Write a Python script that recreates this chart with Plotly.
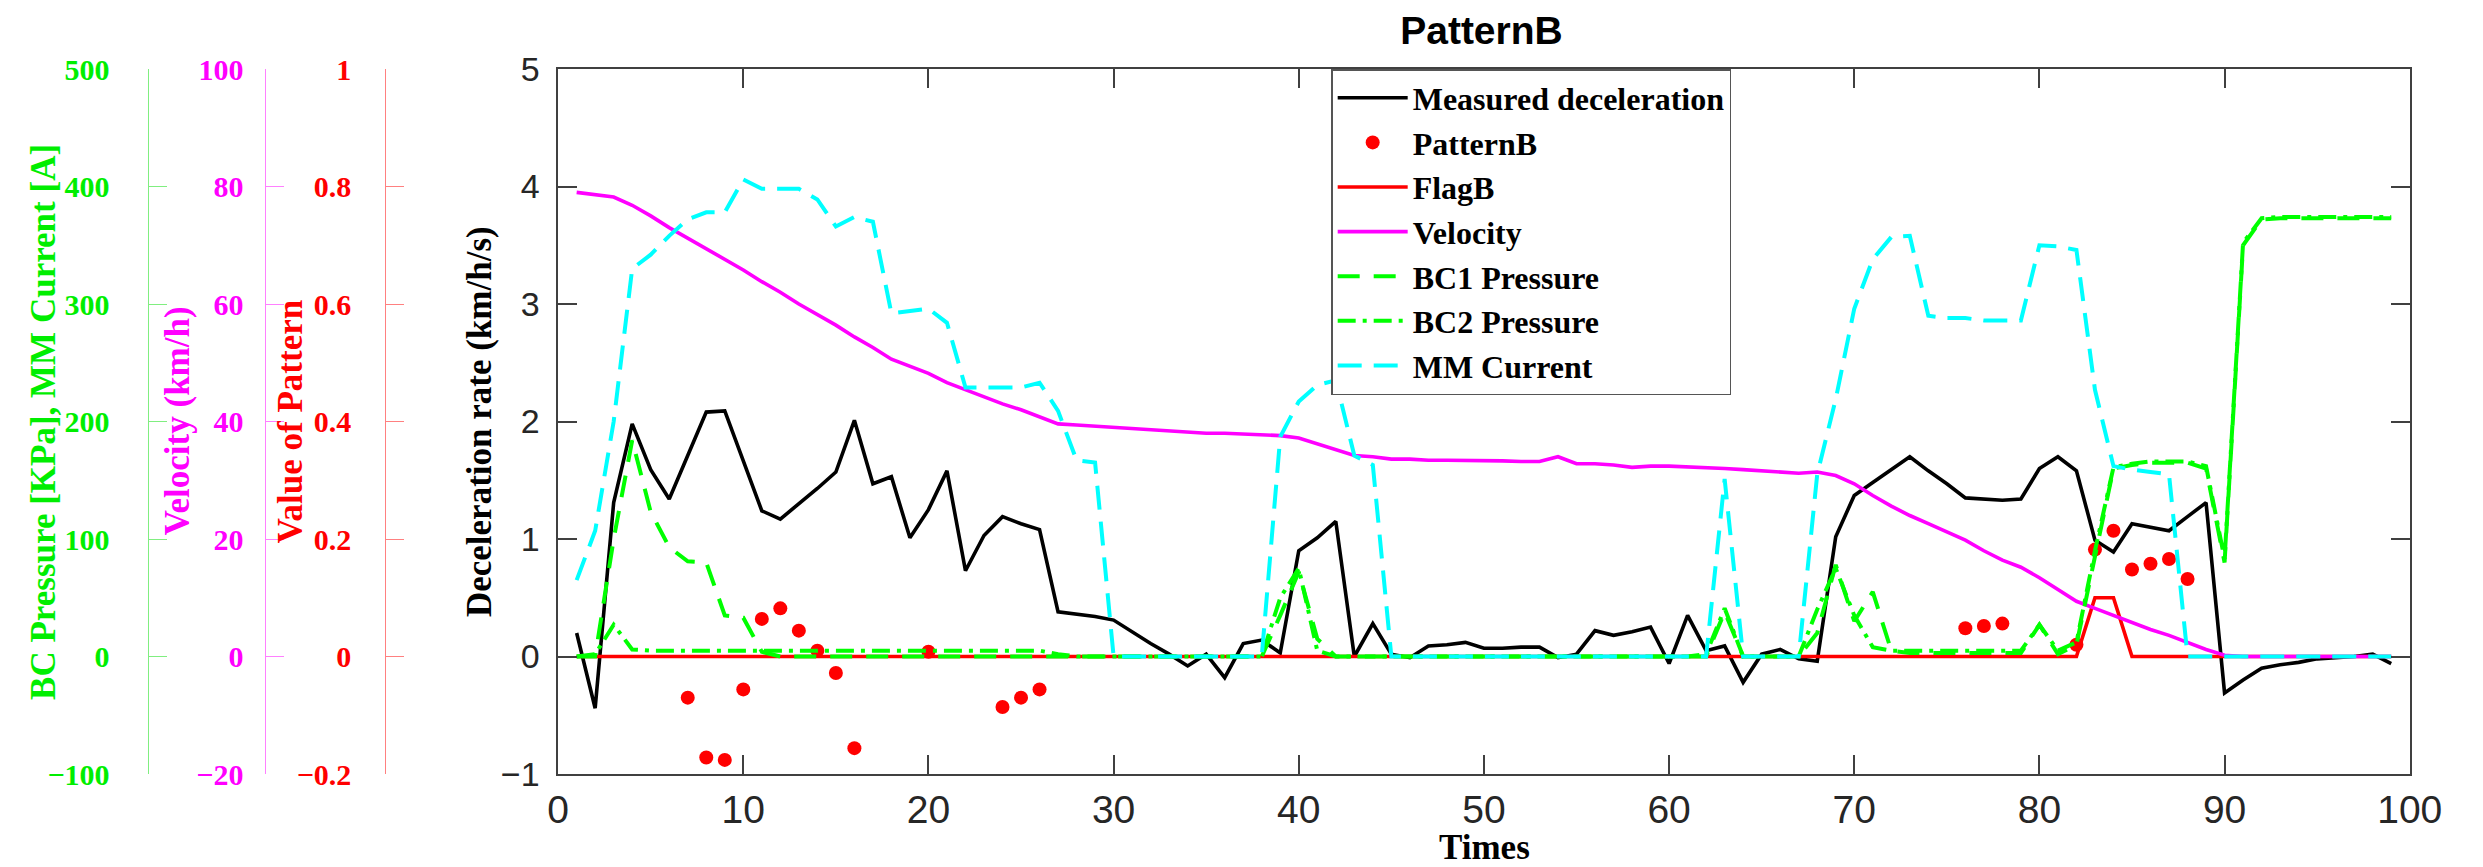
import plotly.graph_objects as go

# ---------------- data ----------------
times = list(range(1, 100))

decel = [0.20, -0.44, 1.31, 1.98, 1.59, 1.34, 1.71, 2.08, 2.09, 1.67,
         1.24, 1.17, 1.30, 1.43, 1.57, 2.01, 1.47, 1.53, 1.01, 1.25,
         1.58, 0.73, 1.03, 1.19, 1.13, 1.08, 0.38, 0.36, 0.34, 0.31,
         0.21, 0.11, 0.02, -0.08, 0.02, -0.18, 0.11, 0.14, 0.03, 0.90,
         1.01, 1.15, 0.00, 0.28, 0.02, -0.01, 0.09, 0.10, 0.12, 0.07,
         0.07, 0.08, 0.08, -0.01, 0.02, 0.22, 0.18, 0.21, 0.25, -0.06,
         0.35, 0.05, 0.09, -0.22, 0.02, 0.06, -0.02, -0.04, 1.02, 1.37,
         1.48, 1.59, 1.70, 1.58, 1.47, 1.35, 1.34, 1.33, 1.34, 1.60,
         1.70, 1.58, 0.99, 0.89, 1.13, 1.10, 1.07, 1.19, 1.31, -0.31,
         -0.20, -0.10, -0.07, -0.05, -0.02, -0.01, 0.00, 0.02, -0.06]

velocity = [79.0, 78.6, 78.2, 76.8, 75.0, 73.0, 71.2, 69.4, 67.6, 65.8,
            63.8, 62.0, 60.0, 58.2, 56.4, 54.4, 52.6, 50.6, 49.4, 48.2,
            46.6, 45.4, 44.2, 43.0, 42.0, 40.8, 39.6, 39.4, 39.2, 39.0,
            38.8, 38.6, 38.4, 38.2, 38.0, 38.0, 37.9, 37.8, 37.6, 37.2,
            36.2, 35.2, 34.2, 34.0, 33.6, 33.6, 33.4, 33.4, 33.4, 33.4,
            33.3, 33.2, 33.2, 34.0, 32.8, 32.8, 32.6, 32.2, 32.4, 32.4,
            32.3, 32.2, 32.0, 31.8, 31.6, 31.4, 31.2, 31.4, 30.8, 29.4,
            27.4, 25.6, 24.0, 22.6, 21.2, 19.8, 18.0, 16.4, 15.2, 13.4,
            11.4, 9.4, 8.2, 7.0, 5.8, 4.6, 3.6, 2.4, 1.2, 0.2,
            0, 0, 0, 0, 0, 0, 0, 0, 0]

mm_current = [65, 107, 200, 330, 342, 358, 372, 378, 378, 406,
              398, 398, 398, 389, 366, 374, 370, 292, 294, 296,
              284, 229, 229, 229, 229, 233, 209, 167, 165, 0,
              0, 0, 0, 0, 0, 0, 0, 0, 187, 217,
              231, 235, 171, 163, 0, 0, 0, 0, 0, 0,
              0, 0, 0, 0, 0, 0, 0, 0, 0, 0,
              0, 0, 151, 0, 0, 0, 0, 155, 219, 296,
              338, 357, 358, 290, 288, 288, 286, 286, 286, 350,
              349, 346, 227, 162, 159, 157, 155, 0, 0, 0,
              0, 0, 0, 0, 0, 0, 0, 0, 0]

bc1_pressure = [0, 0, 100, 184, 123, 93, 81, 80, 35, 33,
                4, 0, 0, 0, 0, 0, 0, 0, 0, 0,
                0, 0, 0, 0, 0, 0, 0, 0, 0, 0,
                0, 0, 0, 0, 0, 0, 0, 0, 35, 72,
                15, 0, 0, 0, 0, 0, 0, 0, 0, 0,
                0, 0, 0, 0, 0, 0, 0, 0, 0, 0,
                0, 0, 38, 0, 0, 0, 0, 20, 78, 30,
                55, 5, 3, 3, 3, 3, 3, 3, 3, 27,
                2, 10, 85, 160, 163, 165, 165, 165, 160, 80,
                350, 372, 373, 373, 373, 373, 373, 373, 373]

bc2_pressure = [0, 2, 27, 6, 5, 5, 5, 5, 5, 5,
                5, 5, 5, 5, 5, 5, 5, 5, 5, 5,
                5, 5, 5, 5, 5, 5, 2, 0, 0, 0,
                0, 0, 0, 0, 0, 0, 0, 0, 50, 75,
                5, 0, 0, 0, 0, 0, 0, 0, 0, 0,
                0, 0, 0, 0, 0, 0, 0, 0, 0, 0,
                0, 2, 41, 0, 0, 0, 0, 40, 75, 35,
                8, 5, 5, 5, 5, 5, 5, 5, 5, 27,
                5, 12, 90, 161, 164, 166, 166, 166, 162, 83,
                352, 373, 374, 374, 374, 374, 374, 374, 374]

flag_b = [0] * 82 + [0.1, 0.1] + [0] * 15

pattern_t = [7, 8, 9, 10, 11, 12, 13, 14, 15, 16, 20, 24, 25, 26,
             76, 77, 78, 82, 83, 84, 85, 86, 87, 88]
pattern_b = [-0.070, -0.172, -0.176, -0.056, 0.064, 0.082, 0.044, 0.010,
             -0.028, -0.156, 0.008, -0.086, -0.070, -0.056,
             0.048, 0.052, 0.056, 0.020, 0.182, 0.214, 0.148, 0.158,
             0.166, 0.132]

x_ticks = [0, 10, 20, 30, 40, 50, 60, 70, 80, 90, 100]
decel_ticks = [-1, 0, 1, 2, 3, 4, 5]
pattern_ticks = [-0.2, 0, 0.2, 0.4, 0.6, 0.8, 1]
velocity_ticks = [-20, 0, 20, 40, 60, 80, 100]
pressure_ticks = [-100, 0, 100, 200, 300, 400, 500]

# ---------------- figure ----------------
W, H = 2483, 867
SERIF = "Liberation Serif"
SANS = "Liberation Sans"
GREEN = "#00ee00"
MAGENTA = "#ff00ff"
RED = "#ff0000"

fig = go.Figure()
fig.add_trace(go.Scatter(x=times, y=decel, name="Measured deceleration",
                         mode="lines", line=dict(color="black", width=3.6),
                         xaxis="x", yaxis="y"))
fig.add_trace(go.Scatter(x=pattern_t, y=pattern_b, name="PatternB",
                         mode="markers", marker=dict(color=RED, size=14),
                         xaxis="x", yaxis="y2"))
fig.add_trace(go.Scatter(x=times, y=flag_b, name="FlagB",
                         mode="lines", line=dict(color=RED, width=3.6),
                         xaxis="x", yaxis="y2"))
fig.add_trace(go.Scatter(x=times, y=velocity, name="Velocity",
                         mode="lines", line=dict(color=MAGENTA, width=3.6),
                         xaxis="x", yaxis="y3"))
fig.add_trace(go.Scatter(x=times, y=bc1_pressure, name="BC1 Pressure",
                         mode="lines",
                         line=dict(color="#00ff00", width=4, dash="22px,14px"),
                         xaxis="x", yaxis="y4"))
fig.add_trace(go.Scatter(x=times, y=bc2_pressure, name="BC2 Pressure",
                         mode="lines",
                         line=dict(color="#00ff00", width=4, dash="18px,7px,4px,7px"),
                         xaxis="x", yaxis="y4"))
fig.add_trace(go.Scatter(x=times, y=mm_current, name="MM Current",
                         mode="lines",
                         line=dict(color="#00ffff", width=4, dash="24px,12px"),
                         xaxis="x", yaxis="y5"))

x0, x1 = 557 / W, 2442 / W
axis_col = "#404040"


def free_axis(pos, rng, ticks, col, linecol, standoff):
    return dict(anchor="free", position=pos, overlaying="y", side="left",
                range=rng, tickvals=ticks, showline=True, linecolor=linecol,
                linewidth=1, ticks="inside", ticklen=18, tickcolor=linecol,
                tickwidth=1, showgrid=False, zeroline=False,
                ticklabelstandoff=standoff,
                tickfont=dict(family=SERIF, size=30, color=col, weight="bold"))


fig.update_layout(
    width=W, height=H, autosize=False,
    margin=dict(l=0, r=0, t=69, b=93, pad=0),
    paper_bgcolor="white", plot_bgcolor="white",
    showlegend=True,
    title=dict(text="PatternB", x=1497 / W, xanchor="center", xref="paper",
               y=1 - 30 / H, yref="container", yanchor="middle",
               font=dict(family=SANS, size=39, color="black", weight="bold")),
    xaxis=dict(domain=[x0, x1], range=[0, 100], tickvals=x_ticks,
               showline=True, linecolor=axis_col, linewidth=1.5, mirror="ticks",
               ticks="inside", ticklen=19, tickcolor=axis_col, tickwidth=1.5,
               showgrid=False, zeroline=False, ticklabelstandoff=0,
               tickfont=dict(family=SANS, size=39, color="#262626")),
    yaxis=dict(domain=[0, 1], range=[-1, 5], tickvals=decel_ticks,
               showline=True, linecolor=axis_col, linewidth=1.5, mirror="ticks",
               ticks="inside", ticklen=19, tickcolor=axis_col, tickwidth=1.5,
               showgrid=False, zeroline=False, ticklabelstandoff=10,
               tickfont=dict(family=SANS, size=34, color="#262626")),
    yaxis2=free_axis(381 / W, [-0.2, 1], pattern_ticks, RED, "#ff8080", 28),
    yaxis3=free_axis(259 / W, [-20, 100], velocity_ticks, MAGENTA, "#ff80ff", 16),
    yaxis4=free_axis(139 / W, [-100, 500], pressure_ticks, GREEN, "#80ee80", 32),
    yaxis5=dict(overlaying="y", anchor="x", range=[-100, 500], visible=False,
                showgrid=False, zeroline=False),
    legend=dict(x=1344 / W, y=1, xanchor="left", yanchor="top",
                xref="paper", yref="paper",
                bgcolor="white", bordercolor="#555555", borderwidth=1.5,
                itemwidth=70, tracegroupgap=0,
                font=dict(family=SERIF, size=32, color="black", weight="bold")),
)

ann_font = dict(family=SERIF, size=35, weight="bold")
annotations = [
    dict(text="BC Pressure [KPa], MM Current [A]", x=33 / W, y=0.5,
         font=dict(ann_font, color=GREEN)),
    dict(text="Velocity (km/h)", x=169 / W, y=0.5,
         font=dict(ann_font, color=MAGENTA)),
    dict(text="Value of Pattern", x=285 / W, y=0.5,
         font=dict(ann_font, color=RED)),
    dict(text="Deceleration rate (km/h/s)", x=477 / W, y=0.5,
         font=dict(ann_font, color="black")),
]
for a in annotations:
    fig.add_annotation(xref="paper", yref="paper", textangle=-90,
                       xanchor="center", yanchor="middle", showarrow=False, **a)
fig.add_annotation(text="Times", xref="paper", yref="paper",
                   x=1500 / W, y=(774 - 847) / 705, xanchor="center",
                   yanchor="middle", showarrow=False,
                   font=dict(ann_font, color="black"))

fig.write_html("out.html", config={"displayModeBar": False},
               post_script="document.body.style.margin='0';"
                           "document.body.style.overflow='hidden';")
